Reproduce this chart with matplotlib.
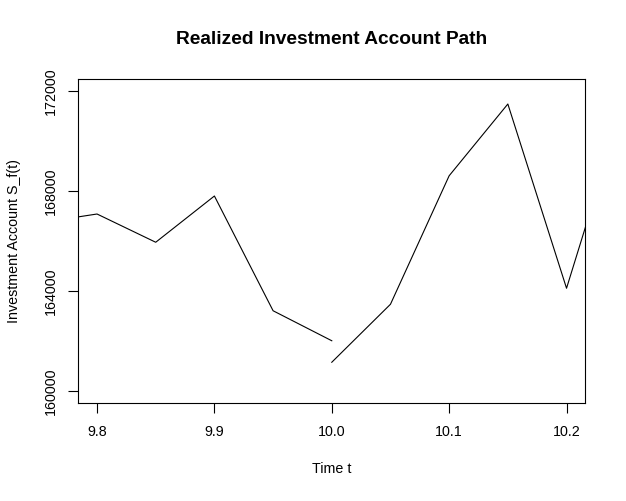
import matplotlib
matplotlib.use('Agg')
import matplotlib.pyplot as plt

# path before and after the rebalance at t = 10
t_before = [9.75, 9.80, 9.85, 9.90, 9.95, 10.00]
s_before = [166720, 167080, 165950, 167800, 163210, 162010]
t_after = [10.00, 10.05, 10.10, 10.15, 10.20, 10.25]
s_after = [161150, 163470, 168610, 171480, 164110, 171700]

x_ticks = [9.8, 9.9, 10.0, 10.1, 10.2]
x_labels = ['9.8', '9.9', '10.0', '10.1', '10.2']
y_ticks = [160000, 164000, 168000, 172000]

plt.rcParams['font.family'] = ['Liberation Sans', 'DejaVu Sans']

fig = plt.figure(figsize=(6.26, 5.01), dpi=100)
ax = fig.add_axes([0.125, 0.1956, 0.81, 0.6467])

ax.plot(t_before, s_before, color='black', lw=0.8)
ax.plot(t_after, s_after, color='black', lw=0.8)

# R style: 4% padding around xlim/ylim
x0, x1 = 9.8, 10.2
y0, y1 = 160000, 172000
ax.set_xlim(x0 - 0.04 * (x1 - x0), x1 + 0.04 * (x1 - x0))
ax.set_ylim(y0 - 0.04 * (y1 - y0), y1 + 0.04 * (y1 - y0))

ax.set_xticks(x_ticks)
ax.set_xticklabels(x_labels)
ax.set_yticks(y_ticks)
ax.set_yticklabels([str(v) for v in y_ticks], rotation=90, va='center')
ax.tick_params(axis='both', direction='out', length=7, width=0.8,
               labelsize=10.3, colors='black')
ax.tick_params(axis='x', pad=9)
ax.tick_params(axis='y', pad=8)
for sp in ax.spines.values():
    sp.set_linewidth(0.8)

xc = 0.125 + 0.81 / 2
yc = 0.1956 + 0.6467 / 2
fig.text(xc, 1 - 40 / 501, 'Realized Investment Account Path',
         ha='center', va='center', fontsize=13.8, fontweight='bold')
fig.text(xc, 1 - 469 / 501, 'Time t', ha='center', va='center', fontsize=10.3)
fig.text(14 / 626, yc, 'Investment Account S_f(t)',
         ha='center', va='center', rotation=90, fontsize=10.3)

fig.savefig('out.png', dpi=100)
